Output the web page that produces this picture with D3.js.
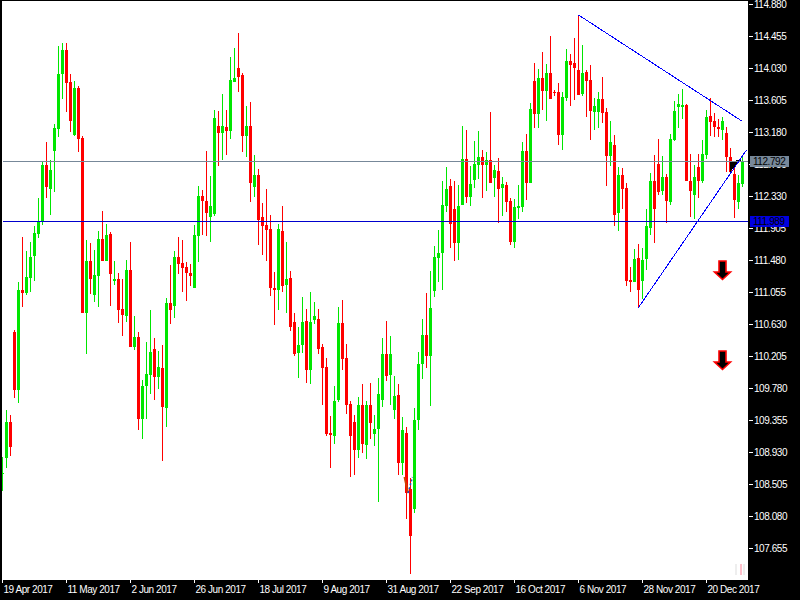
<!DOCTYPE html>
<html>
<head>
<meta charset="utf-8">
<script src="https://d3js.org/d3.v7.min.js"></script>
<style>
  html, body { margin: 0; padding: 0; background: #000; }
  svg { display: block; }
  text { font-family: "Liberation Sans", sans-serif; font-size: 10px; letter-spacing: -0.45px; }
</style>
</head>
<body>
<div id="chart"></div>
<script>
// U = rising bar, R = falling bar
var direction = ("UURRURUUUU" + "URUUUURRUR" + "RURUURURUR" + "RURURUUURU" + "RURURRRRUU" +
                 "RRUURURUUR" + "RURURRRRRU" + "RURRUURUUR" + "RRRUURRRRU" + "RURUUURUUR" +
                 "URRUUURUUU" + "UURRUURUUU" + "RURURURRUU" + "URURURURRR" + "UURRRURRUU" +
                 "RRURURRRUR" + "UUURRURUUU" + "URRURUURRR" + "URRRUU").split("");

var highs = [
  108.868,109.488,109.422,110.551,111.188,111.786,111.600,111.719,111.932,112.304,
  112.782,113.048,112.808,113.287,114.323,114.362,114.362,113.951,113.858,113.791,
  113.127,111.746,111.706,111.613,111.866,112.131,111.958,111.852,111.467,111.308,
  111.228,111.480,111.719,110.737,110.524,109.887,110.391,110.816,110.444,110.272,
  110.351,110.976,111.414,111.600,111.786,111.746,111.454,111.427,111.945,112.463,
  112.410,112.928,112.596,113.473,113.459,113.685,113.473,114.176,114.296,114.495,
  113.964,113.526,113.579,112.875,112.689,112.237,112.423,112.078,111.321,111.958,
  112.198,111.719,111.334,110.776,110.591,110.989,110.830,111.055,110.923,110.830,
  110.365,110.179,109.409,109.807,110.856,110.949,110.365,109.608,109.422,109.661,
  109.834,109.608,109.847,109.422,109.913,110.444,110.670,110.470,109.939,109.833,
  109.395,109.262,108.580,109.514,110.258,110.696,111.042,111.334,111.666,111.878,
  112.529,112.715,112.556,112.529,112.476,113.260,113.206,112.728,113.060,113.193,
  112.941,112.914,113.445,112.742,112.835,112.582,112.516,112.303,112.290,112.476,
  113.047,113.153,113.565,114.096,114.016,114.242,114.083,114.455,113.738,113.830,
  113.711,114.282,114.216,114.428,114.734,114.335,114.003,114.070,113.631,113.711,
  113.910,113.498,113.326,113.140,112.715,112.702,112.502,111.387,111.626,111.692,
  111.639,112.157,112.636,112.875,113.087,112.861,112.622,113.154,113.592,113.685,
  113.751,113.552,112.888,112.742,112.888,113.074,113.472,113.632,113.433,113.353,
  113.379,113.247,112.968,112.795,112.609,112.875];

var bodyTops = [
  108.647,109.329,109.329,110.524,111.082,111.082,111.255,111.520,111.839,111.985,
  112.742,112.742,112.676,113.233,113.951,114.269,114.269,113.844,113.765,113.765,
  113.101,111.467,111.467,111.281,111.759,111.759,111.812,111.826,111.228,111.228,
  110.830,111.348,111.348,110.458,110.458,109.807,109.966,110.259,110.298,110.059,
  110.046,110.909,110.909,111.520,111.520,111.441,111.387,111.308,111.812,112.330,
  112.330,112.264,112.198,113.366,113.260,113.260,113.247,113.871,113.898,114.030,
  113.937,113.260,113.260,112.609,112.609,112.051,111.945,111.892,111.109,111.892,
  111.866,111.228,111.241,110.657,110.351,110.657,110.670,110.657,110.737,110.697,
  110.325,110.059,109.183,109.608,110.644,110.644,110.179,109.568,109.329,109.555,
  109.555,109.555,109.555,109.236,109.700,110.231,110.231,110.231,109.674,109.687,
  109.222,109.182,108.439,109.355,110.099,110.484,110.484,110.842,111.520,111.573,
  112.210,112.423,112.463,112.157,112.197,112.821,112.821,112.489,112.755,112.848,
  112.848,112.808,112.808,112.675,112.662,112.489,112.476,112.263,112.184,112.197,
  112.927,112.927,113.485,113.857,113.897,113.897,113.963,113.963,113.711,113.711,
  113.645,114.123,114.123,114.096,114.003,113.963,113.977,113.870,113.525,113.618,
  113.618,113.445,113.047,113.007,112.609,112.609,112.436,111.214,111.493,111.506,
  111.480,111.931,112.529,112.529,112.755,112.583,112.583,113.087,113.459,113.552,
  113.539,113.539,112.529,112.583,112.715,112.888,113.379,113.393,113.326,113.247,
  113.326,113.167,112.848,112.622,112.503,112.795];

var bodyBottoms = [
  108.647,108.851,108.997,109.754,109.754,111.042,111.042,111.241,111.533,111.826,
  111.998,112.450,112.423,112.928,113.220,113.951,113.831,113.326,113.140,113.087,
  110.776,110.776,111.228,111.016,111.268,111.467,111.467,111.294,111.201,110.816,
  110.750,110.737,110.325,110.325,109.369,109.369,109.807,109.953,109.927,109.927,
  109.528,109.515,110.816,110.869,111.427,111.374,111.308,111.268,111.109,111.799,
  112.264,112.105,112.051,112.091,113.167,113.167,113.194,113.194,113.844,113.911,
  113.127,113.127,112.503,112.450,112.012,111.932,111.879,111.109,111.082,111.082,
  111.135,111.148,110.591,110.232,110.245,110.351,110.019,110.019,110.684,110.298,
  110.046,109.169,109.156,109.143,109.621,110.166,109.555,109.143,108.957,108.957,
  109.037,109.023,109.316,109.169,109.235,109.621,109.939,109.953,109.488,108.784,
  108.784,108.381,107.814,108.173,109.355,110.099,110.205,110.205,111.068,111.506,
  111.573,112.197,111.958,111.706,111.706,112.210,112.317,112.317,112.542,112.742,
  112.742,112.742,112.502,112.569,112.423,112.436,112.250,111.719,111.719,112.170,
  112.184,112.502,112.502,113.419,113.419,113.724,113.724,113.618,113.693,113.140,
  113.140,113.631,114.070,114.030,113.671,113.684,113.857,113.459,113.445,113.445,
  113.432,112.861,112.861,112.077,112.104,112.423,111.201,111.188,111.188,111.081,
  111.201,111.493,111.905,112.158,112.383,112.397,112.264,112.251,113.074,113.512,
  113.512,112.529,112.397,112.343,112.529,112.529,112.875,113.313,113.247,113.220,
  113.207,112.848,112.649,112.277,112.251,112.490];

var lows = [
  108.417,108.718,108.877,109.648,109.581,110.856,111.016,111.055,111.201,111.773,
  111.945,112.304,112.078,112.383,113.114,113.619,113.446,113.180,113.127,112.915,
  110.776,110.232,111.029,110.923,110.856,111.467,111.467,110.869,111.148,110.644,
  110.471,110.657,110.325,110.285,109.223,109.103,109.369,109.701,109.621,109.767,
  108.811,109.262,110.630,110.710,111.294,111.055,110.936,111.135,111.109,111.454,
  111.812,111.799,111.719,112.065,112.729,112.808,112.875,113.087,113.844,113.712,
  112.915,112.848,112.251,112.317,111.680,111.547,111.467,111.002,110.617,110.816,
  111.055,110.776,110.537,110.205,109.913,110.245,109.847,109.834,110.630,110.232,
  109.555,109.143,108.718,109.037,109.594,110.019,109.435,108.598,108.625,108.851,
  108.917,108.837,109.103,109.010,108.266,109.528,109.873,109.554,109.368,108.624,
  108.624,108.040,107.310,108.120,109.222,109.899,110.046,109.541,110.988,111.188,
  111.081,112.117,111.639,111.467,111.480,112.210,112.237,112.197,112.436,112.556,
  112.303,112.396,112.502,112.317,111.971,112.064,112.117,111.679,111.639,112.024,
  112.117,112.277,112.502,113.233,113.233,113.472,113.326,113.618,113.658,113.007,
  112.941,113.591,113.525,113.605,113.671,113.658,113.379,113.073,113.206,113.233,
  113.299,112.463,112.728,111.931,111.865,112.157,111.134,111.055,111.188,110.842,
  110.962,111.347,111.812,111.700,112.343,112.343,111.972,112.211,113.061,113.233,
  113.353,112.529,112.051,112.025,112.304,112.503,112.822,113.127,113.114,113.114,
  113.074,112.649,112.622,112.038,112.158,112.450];

var priceTicks = [114.880,114.455,114.030,113.605,113.180,112.755,112.330,111.905,111.480,
                  111.055,110.630,110.205,109.780,109.355,108.930,108.505,108.080,107.655];

var dateLabels = ["19 Apr 2017","11 May 2017","2 Jun 2017","26 Jun 2017","18 Jul 2017","9 Aug 2017",
                  "31 Aug 2017","22 Sep 2017","16 Oct 2017","6 Nov 2017","28 Nov 2017","20 Dec 2017"];
var dateBars = [0,16,32,48,64,80,96,112,128,144,160,176];

var bidPrice = 112.792;
var askPrice = 111.989;

// objects drawn on the chart: [bar, price]
var upperTrend = [[144, 114.734], [185, 113.320]];
var lowerTrend = [[159, 110.849], [186, 112.941]];
var arrowBars = [180, 180];
var arrowPrices = [111.480, 110.285];
var wedge = [[181.75, 112.775], [185, 112.830], [181.75, 112.640]];
var smallVLeft = [[100.5, 108.598], [101.4, 108.386]];
var smallVRight = [[101.4, 108.386], [102.5, 108.598]];
// faint marks in the bottom right corner: bar, top price, bottom price, colour
var faintBars = [183.25, 184.5, 185.25];
var faintColors = ["#eeeeee", "#ffc0cb", "#eeeeee"];
var faintTop = 107.443, faintBottom = 107.297;

var width = 800, height = 600;
var plotRight = 748, plotBottom = 580;

var x = d3.scaleLinear().domain([0, 1]).range([2, 6]);
var y = d3.scaleLinear().domain([114.880, 107.655]).range([4, 548]);

var svg = d3.select("#chart").append("svg")
    .attr("width", width)
    .attr("height", height);

svg.append("rect").attr("width", width).attr("height", height).attr("fill", "#000");
svg.append("rect")
    .attr("x", 2).attr("y", 1)
    .attr("width", plotRight - 2).attr("height", plotBottom - 1)
    .attr("fill", "#fff");

var clip = svg.append("defs").append("clipPath").attr("id", "plot");
clip.append("rect").attr("x", 2).attr("y", 1).attr("width", plotRight - 2).attr("height", plotBottom - 1);

var plot = svg.append("g").attr("clip-path", "url(#plot)").attr("shape-rendering", "crispEdges");

var up = "#00e600", down = "#ff0000";
var bars = d3.range(highs.length);
function barColor(i) { return direction[i] == "U" ? up : down; }

// wicks
plot.selectAll(".wick").data(bars).enter().append("rect")
    .attr("class", "wick")
    .attr("x", i => x(i))
    .attr("width", 1)
    .attr("y", i => Math.round(y(highs[i])))
    .attr("height", i => Math.max(1, Math.round(y(lows[i])) - Math.round(y(highs[i]))))
    .attr("fill", barColor);

// bodies
plot.selectAll(".body").data(bars).enter().append("rect")
    .attr("class", "body")
    .attr("x", i => x(i) - 1)
    .attr("width", 3)
    .attr("y", i => Math.round(y(bodyTops[i])))
    .attr("height", i => Math.max(1, Math.round(y(bodyBottoms[i])) - Math.round(y(bodyTops[i]))))
    .attr("fill", barColor);

plot.selectAll(".faint").data(faintBars).enter().append("rect")
    .attr("class", "faint")
    .attr("x", d => x(d))
    .attr("width", 2)
    .attr("y", y(faintTop))
    .attr("height", y(faintBottom) - y(faintTop))
    .attr("fill", (d, i) => faintColors[i]);

var line = d3.line().x(d => x(d[0]) + 0.5).y(d => y(d[1]));

plot.append("path").attr("d", line(wedge) + "Z").attr("fill", "#000");

// price lines
plot.append("line")
    .attr("x1", 3).attr("x2", plotRight)
    .attr("y1", Math.floor(y(bidPrice)) + 0.5).attr("y2", Math.floor(y(bidPrice)) + 0.5)
    .attr("stroke", "#778899");
plot.append("line")
    .attr("x1", 3).attr("x2", plotRight)
    .attr("y1", Math.floor(y(askPrice)) + 0.5).attr("y2", Math.floor(y(askPrice)) + 0.5)
    .attr("stroke", "#0000cd");

// trend lines
[upperTrend, lowerTrend].forEach(function(t) {
    plot.append("path").attr("d", line(t)).attr("fill", "none").attr("stroke", "#0000ff");
});

plot.append("path").attr("d", line(smallVLeft)).attr("fill", "none").attr("stroke", "#d04000")
    .attr("stroke-width", 2).attr("shape-rendering", "auto");
plot.append("path").attr("d", line(smallVRight)).attr("fill", "none").attr("stroke", "#2050c0")
    .attr("stroke-dasharray", "2,2").attr("stroke-width", 1.5).attr("shape-rendering", "auto");

// sell arrows, tip pointing down
arrowBars.forEach(function(b, k) {
    var cx = x(b), top = y(arrowPrices[k]);
    var p = d3.path();
    p.moveTo(cx - 3.5, top + 1);
    p.lineTo(cx + 3.5, top + 1);
    p.lineTo(cx + 3.5, top + 12);
    p.lineTo(cx + 8, top + 12);
    p.lineTo(cx, top + 19.5);
    p.lineTo(cx - 8, top + 12);
    p.lineTo(cx - 3.5, top + 12);
    p.closePath();
    svg.append("path").attr("d", p.toString())
        .attr("fill", "#000").attr("stroke", "#ff0000").attr("stroke-width", 1.6)
        .attr("transform", "translate(0.5,0)");
});

// axes
var yAxis = d3.axisRight(y).tickValues(priceTicks).tickFormat(d3.format(".3f")).tickSize(4).tickPadding(1);
var yG = svg.append("g").attr("transform", "translate(" + (plotRight + 1) + ",0)").call(yAxis);
yG.select(".domain").remove();
yG.selectAll("line").attr("stroke", "#fff");
yG.selectAll("text").attr("fill", "#fff").attr("font-family", "Liberation Sans").attr("font-size", 10);

var xAxis = d3.axisBottom(x).tickValues(dateBars).tickFormat((d, i) => dateLabels[i]).tickSize(3).tickPadding(3);
var xG = svg.append("g").attr("transform", "translate(0," + plotBottom + ")").call(xAxis);
xG.select(".domain").remove();
xG.selectAll("line").attr("stroke", "#fff");
xG.selectAll("text").attr("fill", "#fff").attr("text-anchor", "start").attr("dx", 1)
    .attr("font-family", "Liberation Sans").attr("font-size", 10);

// bid / ask tags on the price scale
function priceTag(price, bg) {
    var py = Math.floor(y(price));
    svg.append("rect").attr("x", 750).attr("y", py - 5).attr("width", 39).attr("height", 11).attr("fill", bg);
    svg.append("text").attr("x", 753).attr("y", py + 4).attr("fill", "#000").text(d3.format(".3f")(price));
}
priceTag(bidPrice, "#778899");
priceTag(askPrice, "#0000e0");
</script>
</body>
</html>
